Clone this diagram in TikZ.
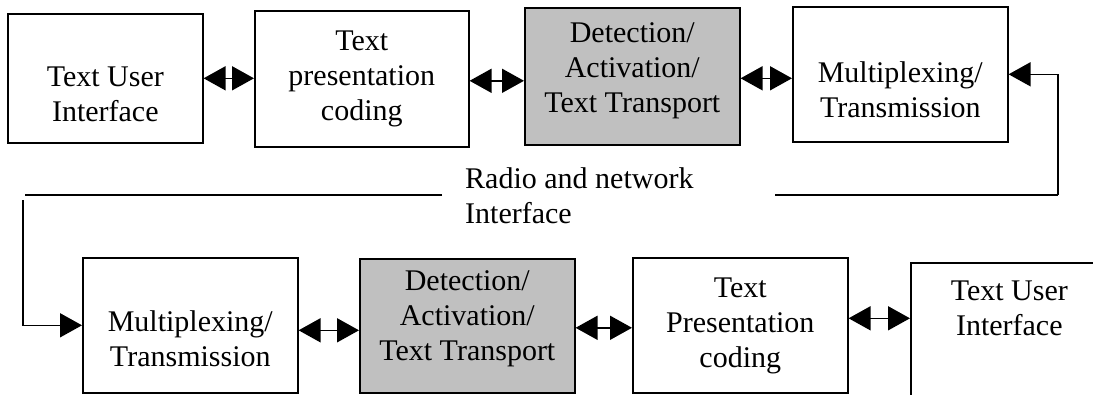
\documentclass[tikz,border=0pt]{standalone}
\usepackage{fontspec}
\setmainfont{Liberation Serif}
\usetikzlibrary{arrows.meta}
\definecolor{boxgray}{RGB}{192,192,192}
\newcommand{\bxt}[1]{\begin{tabular}[t]{@{}c@{}}#1\end{tabular}}
\begin{document}
\begin{tikzpicture}[x=1pt,y=-1pt,
  blk/.style={draw, line width=1.6pt, anchor=north west, inner sep=0pt, font=\fontsize{30}{35}\selectfont},
  bx/.style n args={3}{minimum width=#1pt, text height=#2pt, text depth=#3pt},
  shaded/.style={fill=boxgray},
  tri/.tip={Triangle[length=22pt,width=24pt]},
  dbl/.style={line width=1.6pt, tri-tri},
  one/.style={line width=1.6pt, -tri},
  wire/.style={line width=1.6pt}
]
\useasboundingbox (0,0) rectangle (1093,394);
\clip (0,0) rectangle (1093,394);
% top row
\node[blk, bx={195}{73}{56}] (tui1) at (7,13) {\bxt{Text User\\Interface}};
\node[blk, bx={214}{40}{96}] (tpc1) at (254,10) {\bxt{Text\\presentation\\coding}};
\node[blk, shaded, bx={215}{35}{102}] (det1) at (524,7) {\bxt{Detection/\\Activation/\\Text Transport}};
\node[blk, bx={215}{76}{59}] (mux1) at (792,6) {\bxt{Multiplexing/\\Transmission}};
% bottom row
\node[blk, bx={215}{74}{61}] (mux2) at (82,257) {\bxt{Multiplexing/\\Transmission}};
\node[blk, shaded, bx={215}{32}{102}] (det2) at (359,258) {\bxt{Detection/\\Activation/\\Text Transport}};
\node[blk, bx={215}{40}{95}] (tpc2) at (632,257) {\bxt{Text\\Presentation\\coding}};
\node[blk, bx={197}{38}{150}] (tui2) at (910,262) {\bxt{Text User\\Interface}};
% label
\node[anchor=base west, inner sep=0pt, font=\fontsize{30}{35}\selectfont] (rni) at (465,188)
  {\begin{tabular}[t]{@{}l@{}}Radio and network\\Interface\end{tabular}};
% top connectors
\draw[dbl] (tui1.east) -- (tui1.east -| tpc1.west);
\draw[dbl] ([yshift=-2pt]tpc1.east) -- ([yshift=-2pt]tpc1.east -| det1.west);
\draw[dbl] ([yshift=-2pt]det1.east) -- ([yshift=-2pt]det1.east -| mux1.west);
% bottom connectors
\draw[dbl] ([yshift=-5pt]mux2.east) -- ([yshift=-5pt]mux2.east -| det2.west);
\draw[dbl] ([yshift=-2pt]det2.east) -- ([yshift=-2pt]det2.east -| tpc2.west);
\draw[dbl] ([yshift=7pt]tpc2.east) -- ([yshift=7pt]tpc2.east -| tui2.west);
% feedback loop
\coordinate (r1) at (1058,195);
\coordinate (g1) at (775,195);
\coordinate (g2) at (442,195);
\coordinate (l1) at (25,195);
\coordinate (l2) at (23,200);
\draw[one] (r1) |- (mux1.east);
\draw[wire] (r1) -- (g1);
\draw[wire] (g2) -- (l1);
\draw[one] (l2) |- (mux2.west);
\end{tikzpicture}
\end{document}
